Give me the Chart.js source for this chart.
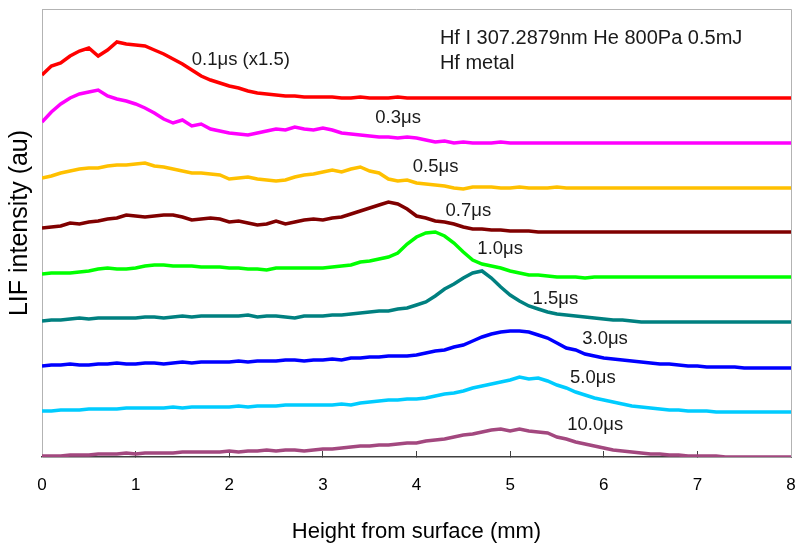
<!DOCTYPE html>
<html>
<head>
<meta charset="utf-8">
<script src="https://cdn.jsdelivr.net/npm/chart.js@4.4.1/dist/chart.umd.min.js"></script>
<style>
  html, body { margin: 0; padding: 0; background: #fff; }
  #wrap { width: 797px; height: 550px; }
</style>
</head>
<body>
<div id="wrap"><canvas id="chart" width="797" height="550"></canvas></div>
<script>
// height above surface (mm), one sample every 0.1 mm
const heights = [
  0.0, 0.1, 0.2, 0.3, 0.4, 0.5, 0.6, 0.7, 0.8, 0.9,
  1.0, 1.1, 1.2, 1.3, 1.4, 1.5, 1.6, 1.7, 1.8, 1.9,
  2.0, 2.1, 2.2, 2.3, 2.4, 2.5, 2.6, 2.7, 2.8, 2.9,
  3.0, 3.1, 3.2, 3.3, 3.4, 3.5, 3.6, 3.7, 3.8, 3.9,
  4.0, 4.1, 4.2, 4.3, 4.4, 4.5, 4.6, 4.7, 4.8, 4.9,
  5.0, 5.1, 5.2, 5.3, 5.4, 5.5, 5.6, 5.7, 5.8, 5.9,
  6.0, 6.1, 6.2, 6.3, 6.4, 6.5, 6.6, 6.7, 6.8, 6.9,
  7.0, 7.1, 7.2, 7.3, 7.4, 7.5, 7.6, 7.7, 7.8, 7.9,
  8.0
];

// LIF intensity, stacked with offsets (au)
const lif01 = [
  382, 391, 394, 401, 406, 409, 401, 407, 415, 413,
  412, 411, 407, 403, 398, 393, 387, 381, 377, 374,
  371, 369, 366, 364, 363, 362, 361, 361, 360, 360,
  360, 360, 359, 359, 360, 359, 359, 359, 360, 359,
  359, 359, 359, 359, 359, 359, 359, 359, 359, 359,
  359, 359, 359, 359, 359, 359, 359, 359, 359, 359,
  359, 359, 359, 359, 359, 359, 359, 359, 359, 359,
  359, 359, 359, 359, 359, 359, 359, 359, 359, 359,
  359
];
const lif03 = [
  335, 345, 353, 359, 363, 365, 367, 361, 358, 356,
  353, 349, 344, 338, 334, 337, 331, 333, 328, 326,
  324, 323, 322, 324, 326, 328, 327, 330, 328, 327,
  329, 327, 324, 323, 322, 321, 320, 320, 319, 320,
  319, 317, 315, 316, 314, 315, 314, 314, 314, 315,
  314, 314, 314, 314, 314, 314, 314, 314, 314, 314,
  314, 314, 314, 314, 314, 314, 314, 314, 314, 314,
  314, 314, 314, 314, 314, 314, 314, 314, 314, 314,
  314
];
const lif05 = [
  279, 281, 284, 286, 288, 289, 289, 291, 292, 292,
  293, 294, 291, 290, 288, 286, 284, 284, 283, 282,
  278, 279, 280, 278, 277, 276, 277, 280, 282, 283,
  285, 287, 285, 288, 290, 286, 284, 278, 276, 277,
  274, 273, 272, 271, 269, 268, 270, 270, 270, 269,
  269, 270, 269, 269, 269, 270, 269, 269, 269, 269,
  269, 269, 269, 269, 269, 269, 269, 269, 269, 269,
  269, 269, 269, 269, 269, 269, 269, 269, 269, 269,
  269
];
const lif07 = [
  229, 230, 231, 234, 233, 235, 236, 238, 239, 242,
  241, 240, 241, 242, 242, 240, 237, 238, 239, 238,
  235, 236, 234, 232, 233, 236, 233, 235, 237, 238,
  237, 239, 240, 243, 246, 249, 252, 255, 253, 248,
  241, 239, 236, 235, 233, 230, 228, 228, 227, 227,
  226, 226, 226, 225, 225, 225, 225, 225, 225, 225,
  225, 225, 225, 225, 225, 225, 225, 225, 225, 225,
  225, 225, 225, 225, 225, 225, 225, 225, 225, 225,
  225
];
const lif10 = [
  183, 184, 184, 184, 185, 186, 188, 189, 188, 188,
  189, 191, 192, 192, 191, 191, 191, 190, 190, 190,
  189, 189, 188, 188, 187, 189, 189, 189, 189, 189,
  189, 190, 191, 192, 195, 196, 198, 200, 204, 213,
  220, 224, 225, 221, 214, 205, 197, 193, 191, 189,
  186, 184, 182, 182, 181, 180, 180, 180, 179, 180,
  180, 180, 180, 180, 180, 180, 180, 180, 180, 180,
  180, 180, 180, 180, 180, 180, 180, 180, 180, 180,
  180
];
const lif15 = [
  136, 137, 137, 138, 139, 138, 139, 139, 139, 139,
  139, 140, 140, 139, 140, 141, 140, 141, 141, 141,
  141, 141, 142, 140, 141, 141, 140, 139, 141, 141,
  141, 142, 142, 143, 144, 145, 146, 146, 148, 149,
  152, 155, 161, 168, 173, 179, 184, 186, 179, 170,
  162, 156, 151, 148, 145, 143, 142, 141, 140, 139,
  138, 137, 137, 136, 135, 135, 135, 135, 135, 135,
  135, 135, 135, 135, 135, 135, 135, 135, 135, 135,
  135
];
const lif30 = [
  91, 92, 92, 93, 92, 92, 93, 93, 94, 93,
  93, 94, 94, 93, 94, 95, 94, 95, 95, 95,
  95, 96, 95, 96, 96, 96, 97, 97, 96, 97,
  97, 98, 97, 99, 99, 100, 100, 101, 101, 101,
  102, 104, 106, 107, 110, 112, 116, 120, 123, 125,
  126, 126, 125, 122, 119, 114, 109, 107, 103, 101,
  99, 98, 97, 96, 95, 94, 93, 93, 92, 91,
  91, 90, 90, 90, 90, 89, 89, 89, 89, 89,
  89
];
const lif50 = [
  46, 46, 47, 47, 47, 48, 48, 48, 48, 49,
  49, 49, 49, 49, 50, 49, 50, 50, 50, 50,
  50, 51, 50, 51, 51, 51, 52, 52, 52, 52,
  52, 52, 53, 52, 54, 55, 56, 57, 57, 58,
  58, 59, 61, 63, 64, 66, 69, 71, 73, 75,
  77, 80, 78, 79, 76, 72, 69, 65, 62, 59,
  57, 55, 53, 51, 50, 49, 48, 47, 47, 46,
  46, 46, 45, 45, 45, 45, 45, 45, 45, 45,
  45
];
const lif100 = [
  1, 1, 1, 2, 2, 2, 3, 3, 3, 4,
  3, 4, 4, 4, 4, 5, 5, 5, 5, 5,
  6, 5, 6, 6, 7, 6, 7, 7, 6, 7,
  8, 8, 9, 10, 11, 11, 12, 12, 13, 14,
  14, 16, 17, 18, 20, 22, 23, 25, 27, 28,
  26, 28, 26, 25, 24, 20, 18, 15, 13, 11,
  9, 7, 6, 5, 4, 3, 3, 2, 2, 1,
  1, 1, 1, 0, 0, 0, 0, 0, 0, 0,
  0
];

const seriesData = [lif01, lif03, lif05, lif07, lif10, lif15, lif30, lif50, lif100];
const seriesColors = ['#ff0000', '#ff00ff', '#ffc000', '#800000', '#00ff00', '#008080', '#0000ff', '#00ccff', '#a3487f'];

// delay labels next to each trace
const delayLabels = ['0.1μs (x1.5)', '0.3μs', '0.5μs', '0.7μs', '1.0μs', '1.5μs', '3.0μs', '5.0μs', '10.0μs'];
const delayLabelX = [1.60, 3.56, 3.96, 4.31, 4.65, 5.24, 5.77, 5.64, 5.61];
const delayLabelY = [397, 339, 290, 246, 208, 158, 118, 79, 32];

const headerLines = ['Hf I 307.2879nm He 800Pa 0.5mJ', 'Hf metal'];
const headerX = 4.25;
const headerY = [419, 394];

const FONT = "'Liberation Sans', Arial, sans-serif";

const framePlugin = {
  id: 'frame',
  beforeDatasetsDraw(chart) {
    const { ctx, chartArea: a } = chart;
    ctx.save();
    ctx.strokeStyle = '#b3b3b3';
    ctx.lineWidth = 1;
    ctx.beginPath();
    ctx.moveTo(a.left, a.top + 0.5);
    ctx.lineTo(a.right + 0.5, a.top + 0.5);
    ctx.lineTo(a.right + 0.5, a.bottom);
    ctx.stroke();
    ctx.restore();
  },
};

const textPlugin = {
  id: 'texts',
  afterDatasetsDraw(chart) {
    const { ctx } = chart;
    const xs = chart.scales.x;
    const ys = chart.scales.y;
    ctx.save();
    ctx.fillStyle = '#1a1a1a';
    ctx.textAlign = 'left';
    ctx.textBaseline = 'middle';
    ctx.font = `18.5px ${FONT}`;
    delayLabels.forEach((t, i) => {
      ctx.fillText(t, xs.getPixelForValue(delayLabelX[i]), ys.getPixelForValue(delayLabelY[i]));
    });
    ctx.font = `20px ${FONT}`;
    headerLines.forEach((t, i) => {
      ctx.fillText(t, xs.getPixelForValue(headerX), ys.getPixelForValue(headerY[i]));
    });
    ctx.restore();

    // y axis title, sits a little above the middle of the plot
    ctx.save();
    ctx.fillStyle = '#000';
    ctx.font = `25px ${FONT}`;
    ctx.textAlign = 'center';
    ctx.textBaseline = 'middle';
    ctx.translate(20, ys.getPixelForValue(234));
    ctx.rotate(-Math.PI / 2);
    ctx.fillText('LIF intensity (au)', 0, 0);
    ctx.restore();
  },
};

const datasets = seriesData.map((vals, i) => ({
  data: vals.map((v, j) => ({ x: heights[j], y: v })),
  borderColor: seriesColors[i],
  backgroundColor: seriesColors[i],
  borderWidth: 3.5,
  pointRadius: 0,
  tension: 0,
  fill: false,
}));

new Chart(document.getElementById('chart').getContext('2d'), {
  type: 'line',
  data: { datasets },
  plugins: [framePlugin, textPlugin],
  options: {
    responsive: false,
    devicePixelRatio: 1,
    animation: false,
    layout: { padding: { left: 0, top: 9, right: 6, bottom: 0 } },
    plugins: {
      legend: { display: false },
      tooltip: { enabled: false },
    },
    scales: {
      x: {
        type: 'linear',
        min: 0,
        max: 8,
        ticks: { stepSize: 1, color: '#000', padding: 24, font: { family: FONT, size: 17 } },
        grid: { display: true, drawOnChartArea: false, drawTicks: true, tickLength: -6, color: '#404040' },
        border: { color: '#404040', width: 1.5 },
        title: {
          display: true,
          text: 'Height from surface (mm)',
          color: '#000',
          font: { family: FONT, size: 22 },
          padding: { top: 0, bottom: 5 },
        },
        afterFit: s => {
          s.height = 93;
          s.paddingLeft = 0;
          s.paddingRight = 0;
        },
      },
      y: {
        min: 0,
        max: 448,
        ticks: { display: false },
        grid: { display: false },
        border: { color: '#b3b3b3', width: 1 },
        title: { display: false },
        afterFit: s => { s.width = 42; },
      },
    },
  },
});
</script>
</body>
</html>
